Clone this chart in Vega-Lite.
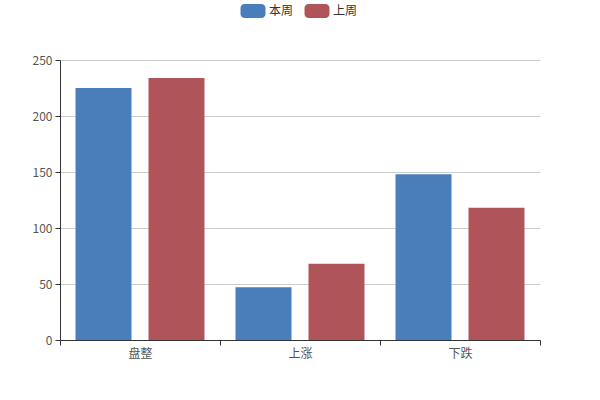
{
  "$schema": "https://vega.github.io/schema/vega-lite/v6.json",
  "width": 480,
  "height": 280,
  "autosize": {"type": "none"},
  "padding": {"left": 60, "top": 60, "right": 60, "bottom": 60},
  "background": "white",
  "config": {
    "font": "Noto Sans CJK SC",
    "view": {"stroke": null}
  },
  "data": {
    "values": [
      {"category": "盘整", "series": "本周", "value": 225},
      {"category": "盘整", "series": "上周", "value": 234},
      {"category": "上涨", "series": "本周", "value": 47},
      {"category": "上涨", "series": "上周", "value": 68},
      {"category": "下跌", "series": "本周", "value": 148},
      {"category": "下跌", "series": "上周", "value": 118}
    ]
  },
  "mark": {"type": "bar"},
  "encoding": {
    "x": {
      "field": "category",
      "type": "nominal",
      "sort": ["盘整", "上涨", "下跌"],
      "scale": {"paddingInner": 0, "paddingOuter": 0},
      "axis": {
        "title": null,
        "labelAngle": 0,
        "tickBand": "extent",
        "domainColor": "#333333",
        "tickColor": "#333333",
        "tickSize": 5,
        "labelColor": "#555555",
        "labelFontSize": 12,
        "labelPadding": 3,
        "grid": false
      }
    },
    "xOffset": {
      "field": "series",
      "type": "nominal",
      "sort": ["本周", "上周"],
      "scale": {"paddingInner": 0.233, "paddingOuter": 0.2125}
    },
    "y": {
      "field": "value",
      "type": "quantitative",
      "scale": {"domain": [0, 250], "nice": false},
      "axis": {
        "title": null,
        "values": [0, 50, 100, 150, 200, 250],
        "domainColor": "#333333",
        "tickColor": "#333333",
        "tickSize": 5,
        "labelColor": "#555555",
        "labelFontSize": 12,
        "labelPadding": 3,
        "gridColor": "#cccccc"
      }
    },
    "color": {
      "field": "series",
      "type": "nominal",
      "sort": ["本周", "上周"],
      "scale": {"domain": ["本周", "上周"], "range": ["#4a7ebb", "#af5458"]},
      "legend": {
        "title": null,
        "orient": "none",
        "direction": "horizontal",
        "legendX": 183,
        "legendY": -59,
        "symbolType": "M-0.85,-0.7 H0.85 A0.4,0.4 0 0 1 1.25,-0.3 V0.3 A0.4,0.4 0 0 1 0.85,0.7 H-0.85 A0.4,0.4 0 0 1 -1.25,0.3 V-0.3 A0.4,0.4 0 0 1 -0.85,-0.7 Z",
        "symbolSize": 400,
        "symbolStrokeWidth": 0,
        "symbolOpacity": 1,
        "labelOffset": 6,
        "labelFontSize": 12,
        "labelColor": "#333333",
        "columnPadding": 10
      }
    }
  }
}
